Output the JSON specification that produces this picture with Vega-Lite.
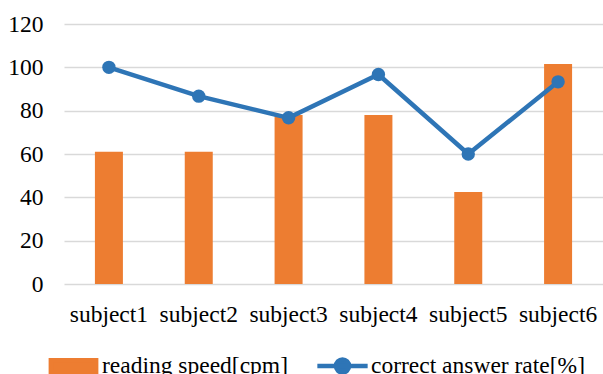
{
  "$schema": "https://vega.github.io/schema/vega-lite/v6.json",
  "autosize": "none",
  "padding": {"left": 64, "top": 24, "right": 0, "bottom": 90},
  "width": 539,
  "height": 260,
  "config": {
    "view": {"stroke": null},
    "font": "Liberation Serif",
    "axis": {"labelFont": "Liberation Serif", "labelFontSize": 23.5, "labelColor": "#000000", "title": null},
    "legend": {"labelFont": "Liberation Serif"}
  },
  "data": {
    "values": [
      {"subject": "subject1", "speed": 61, "rate": 100},
      {"subject": "subject2", "speed": 61, "rate": 86.7},
      {"subject": "subject3", "speed": 78, "rate": 76.7},
      {"subject": "subject4", "speed": 78, "rate": 96.7},
      {"subject": "subject5", "speed": 42.5, "rate": 60},
      {"subject": "subject6", "speed": 101.5, "rate": 93.3}
    ]
  },
  "encoding": {
    "x": {
      "field": "subject", "type": "nominal", "sort": null,
      "scale": {"paddingInner": 0, "paddingOuter": 0},
      "axis": {"labelAngle": 0, "domain": false, "ticks": false, "labelPadding": 18, "title": null}
    }
  },
  "layer": [
    {
      "mark": {"type": "bar", "size": 28},
      "encoding": {
        "y": {
          "field": "speed", "type": "quantitative",
          "scale": {"domain": [0, 120], "nice": false},
          "axis": {"values": [0, 20, 40, 60, 80, 100, 120], "domain": false, "ticks": false, "gridColor": "#D9D9D9", "gridWidth": 1.3, "labelPadding": 21, "title": null}
        },
        "color": {
          "datum": "reading speed[cpm]",
          "scale": {"domain": ["reading speed[cpm]", "correct answer rate[%]"], "range": ["#ED7D31", "#2E75B6"]},
          "legend": {
            "orient": "none",
            "legendX": -18,
            "legendY": 314,
            "direction": "horizontal",
            "title": null,
            "padding": 0,
            "labelFont": "Liberation Serif",
            "labelFontSize": 23.5,
            "labelColor": "#000000",
            "labelLimit": 0,
            "labelOffset": 1,
            "columnPadding": 20,
            "symbolSize": 2530,
            "symbolStrokeWidth": 0,
            "encode": {
              "symbols": {
                "update": {
                  "shape": [
                    {"test": "datum.value === 'reading speed[cpm]'", "value": "M-0.9,-0.24H0.9V0.24H-0.9Z"},
                    {"value": "M-1,0H1M0.26,0A0.26,0.26 0 1 1 -0.26,0A0.26,0.26 0 1 1 0.26,0Z"}
                  ],
                  "fill": [
                    {"test": "datum.value === 'reading speed[cpm]'", "value": "#ED7D31"},
                    {"value": "#2E75B6"}
                  ],
                  "stroke": [
                    {"test": "datum.value === 'reading speed[cpm]'", "value": "transparent"},
                    {"value": "#2E75B6"}
                  ],
                  "strokeWidth": {"value": 4.5},
                  "size": {"value": 2530},
                  "opacity": {"value": 1}
                }
              }
            }
          }
        }
      }
    },
    {
      "mark": {"type": "line", "strokeWidth": 4.5, "point": {"filled": true, "size": 180, "opacity": 1}},
      "encoding": {
        "y": {"field": "rate", "type": "quantitative"},
        "color": {"datum": "correct answer rate[%]"}
      }
    }
  ]
}
